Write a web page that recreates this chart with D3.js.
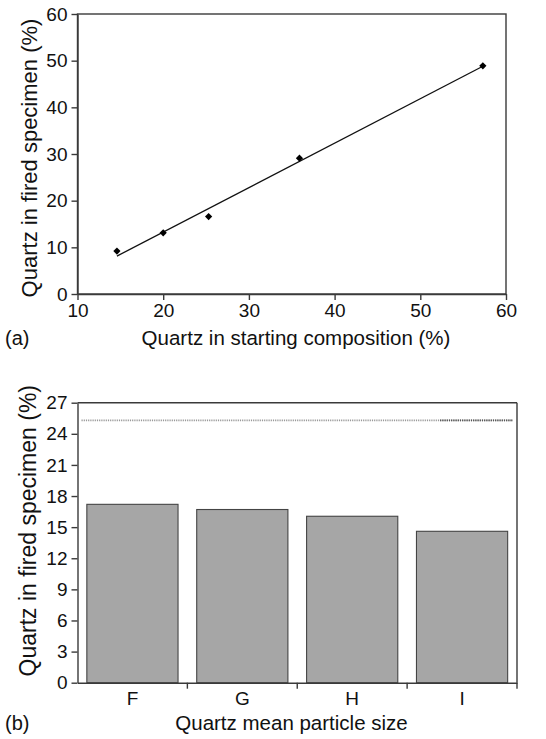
<!DOCTYPE html>
<html>
<head>
<meta charset="utf-8">
<script src="https://cdn.jsdelivr.net/npm/d3@7/dist/d3.min.js"></script>
<style>
  body { margin: 0; background: #fff; }
  svg { display: block; font-family: "Liberation Sans", Arial, sans-serif; }
</style>
</head>
<body>
<script>
// (a) quartz in starting composition vs fired specimen (%)
const startQuartz = [14.6, 20.0, 25.3, 35.9, 57.3]
const firedQuartz = [9.2, 13.1, 16.6, 29.1, 48.9]
const xTicksA = [10, 20, 30, 40, 50, 60]
const yTicksA = [0, 10, 20, 30, 40, 50, 60]

// (b) quartz mean particle size
const sizes = ['F', 'G', 'H', 'I']
const firedBySize = [17.2, 16.7, 16.05, 14.6]
const referenceQuartz = 25.3
const yTicksB = [0, 3, 6, 9, 12, 15, 18, 21, 24, 27]

const width = 546, height = 739
const axisColor = '#3a3a3a'

const svg = d3.select('body').append('svg')
  .attr('width', width).attr('height', height)

function styleAxis(g) {
  g.select('.domain').attr('stroke', axisColor).attr('stroke-width', 1.4)
  g.selectAll('.tick line').attr('stroke', axisColor).attr('stroke-width', 1.4)
  g.selectAll('.tick text').attr('fill', '#111').style('font-size', '19px')
    .style('font-family', '"Liberation Sans", Arial, sans-serif')
}

// ---------- chart (a) ----------
const boxA = { left: 77.5, right: 506, top: 14, bottom: 294 }
const xA = d3.scaleLinear().domain([10, 60]).range([boxA.left, boxA.right])
const yA = d3.scaleLinear().domain([0, 60]).range([boxA.bottom, boxA.top])

const gA = svg.append('g')

gA.append('rect')
  .attr('x', boxA.left).attr('y', boxA.top)
  .attr('width', boxA.right - boxA.left).attr('height', boxA.bottom - boxA.top)
  .attr('fill', 'none').attr('stroke', axisColor).attr('stroke-width', 1.4)

gA.append('g')
  .attr('transform', `translate(0,${boxA.bottom})`)
  .call(d3.axisBottom(xA).tickValues(xTicksA).tickSize(6).tickPadding(4).tickSizeOuter(0))
  .call(styleAxis)

gA.append('g')
  .attr('transform', `translate(${boxA.left},0)`)
  .call(d3.axisLeft(yA).tickValues(yTicksA).tickSize(6).tickPadding(4).tickSizeOuter(0))
  .call(styleAxis)

// least squares fit line
const mx = d3.mean(startQuartz), my = d3.mean(firedQuartz)
const sxy = d3.sum(startQuartz, (x, i) => (x - mx) * (firedQuartz[i] - my))
const sxx = d3.sum(startQuartz, x => (x - mx) * (x - mx))
const slope = sxy / sxx, intercept = my - slope * mx
const ext = d3.extent(startQuartz)

gA.append('path')
  .attr('d', d3.line().x(d => xA(d)).y(d => yA(slope * d + intercept))(ext))
  .attr('fill', 'none').attr('stroke', '#111').attr('stroke-width', 1.3)

gA.selectAll('.pt')
  .data(startQuartz)
  .join('path')
  .attr('class', 'pt')
  .attr('d', d3.symbol(d3.symbolSquare, 26))
  .attr('transform', (d, i) => `translate(${xA(d)},${yA(firedQuartz[i])}) rotate(45)`)
  .attr('fill', '#000')

gA.append('text')
  .attr('x', boxA.left - 41).attr('y', (boxA.top + boxA.bottom) / 2 + 4)
  .attr('transform', `rotate(-90, ${boxA.left - 41}, ${(boxA.top + boxA.bottom) / 2 + 4})`)
  .attr('text-anchor', 'middle').style('font-size', '22px').attr('fill', '#111')
  .text('Quartz in fired specimen (%)')

gA.append('text')
  .attr('x', 296).attr('y', 345)
  .attr('text-anchor', 'middle').style('font-size', '20.5px').attr('fill', '#111')
  .text('Quartz in starting composition (%)')

gA.append('text')
  .attr('x', 5).attr('y', 345)
  .style('font-size', '20px').attr('fill', '#111')
  .text('(a)')

// ---------- chart (b) ----------
const boxB = { left: 77.5, right: 517, top: 402.7, bottom: 682.7 }
const xB = d3.scaleBand().domain(sizes).range([boxB.left, boxB.right])
  .paddingInner(0.17).paddingOuter(0.085)
const yB = d3.scaleLinear().domain([0, 27]).range([boxB.bottom, boxB.top])

const gB = svg.append('g')

gB.selectAll('.bar')
  .data(sizes)
  .join('rect')
  .attr('class', 'bar')
  .attr('x', d => xB(d))
  .attr('y', (d, i) => yB(firedBySize[i]))
  .attr('width', xB.bandwidth())
  .attr('height', (d, i) => yB(0) - yB(firedBySize[i]))
  .attr('fill', '#a6a6a6').attr('stroke', '#444').attr('stroke-width', 1.1)

// reference line (starting composition)
gB.append('line')
  .attr('x1', boxB.left + 4).attr('x2', boxB.right - 4)
  .attr('y1', yB(referenceQuartz)).attr('y2', yB(referenceQuartz))
  .attr('stroke', '#999').attr('stroke-width', 1.6).attr('stroke-dasharray', '1.2 1')
gB.append('line')
  .attr('x1', xB('I') - xB.step() * 0.085 + xB.step() * 0.3).attr('x2', boxB.right - 4)
  .attr('y1', yB(referenceQuartz)).attr('y2', yB(referenceQuartz))
  .attr('stroke', '#555').attr('stroke-width', 1.6).attr('stroke-dasharray', '1.2 1')

gB.append('line')
  .attr('x1', boxB.left).attr('x2', boxB.right)
  .attr('y1', boxB.top).attr('y2', boxB.top)
  .attr('stroke', axisColor).attr('stroke-width', 1.4)
gB.append('line')
  .attr('x1', boxB.right).attr('x2', boxB.right)
  .attr('y1', boxB.top).attr('y2', boxB.bottom)
  .attr('stroke', axisColor).attr('stroke-width', 1.4)

const xAxisB = gB.append('g')
  .attr('transform', `translate(0,${boxB.bottom})`)
  .call(d3.axisBottom(xB).tickSize(0).tickPadding(9).tickSizeOuter(0))
  .call(styleAxis)

// ticks between categories
xAxisB.selectAll('.sep')
  .data(sizes)
  .join('line')
  .attr('class', 'sep')
  .attr('x1', d => xB(d) - xB.step() * 0.085 + xB.step())
  .attr('x2', d => xB(d) - xB.step() * 0.085 + xB.step())
  .attr('y1', 0).attr('y2', 6)
  .attr('stroke', axisColor).attr('stroke-width', 1.4)

gB.append('g')
  .attr('transform', `translate(${boxB.left},0)`)
  .call(d3.axisLeft(yB).tickValues(yTicksB).tickSize(6).tickPadding(4).tickSizeOuter(0))
  .call(styleAxis)

gB.append('text')
  .attr('x', boxB.left - 41).attr('y', (boxB.top + boxB.bottom) / 2 - 12)
  .attr('transform', `rotate(-90, ${boxB.left - 41}, ${(boxB.top + boxB.bottom) / 2 - 12})`)
  .attr('text-anchor', 'middle').style('font-size', '23px').attr('fill', '#111')
  .text('Quartz in fired specimen (%)')

gB.append('text')
  .attr('x', 291.5).attr('y', 730)
  .attr('text-anchor', 'middle').style('font-size', '20.5px').attr('fill', '#111')
  .text('Quartz mean particle size')

gB.append('text')
  .attr('x', 5).attr('y', 730)
  .style('font-size', '20px').attr('fill', '#111')
  .text('(b)')
</script>
</body>
</html>
